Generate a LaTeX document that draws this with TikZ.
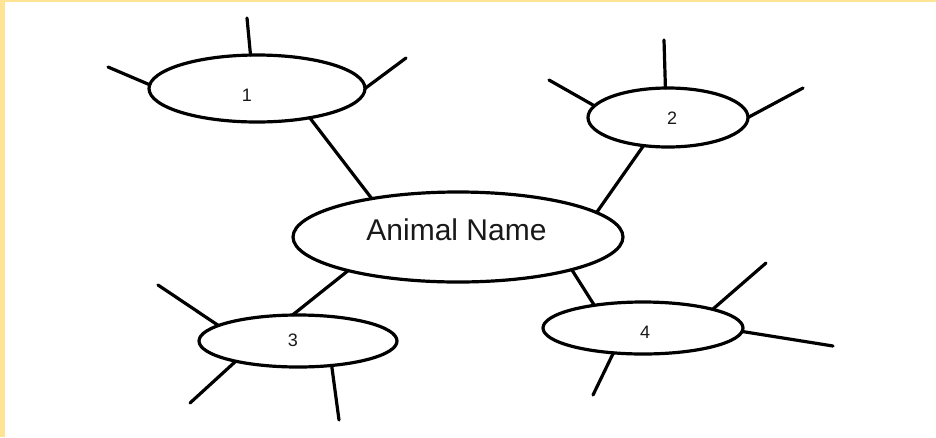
\documentclass[tikz,border=0pt]{standalone}
\usepackage{fontspec}
\setmainfont{Liberation Sans}
\usetikzlibrary{shapes.geometric}
\definecolor{pagetint}{RGB}{255,228,150}
\begin{document}
\begin{tikzpicture}[x=1pt,y=-1pt,
  bubble/.style={ellipse,draw=black,line width=3.2pt,fill=white,inner sep=0pt,outer sep=0pt},
  spoke/.style={line width=3.2pt,line cap=round},
  numtext/.style={font=\fontsize{18}{21}\selectfont,text=black!90},
  maintext/.style={font=\fontsize{30}{35}\selectfont,text=black!90}]
  % page and tinted edges
  \fill[white] (0,0) rectangle (936,437);
  \useasboundingbox (0,0) rectangle (936,437);
  \fill[pagetint] (0,0) rectangle (5,437);
  \fill[pagetint] (0,0) rectangle (936,2);

  % bubbles
  \node[bubble,minimum width=330pt,minimum height=90pt,
        label={[maintext,xshift=-1.5pt,yshift=7.5pt]center:Animal Name}] (hub) at (458,237) {};
  \node[bubble,minimum width=216pt,minimum height=67pt,
        label={[numtext,xshift=-10pt,yshift=-6.5pt]center:1}] (b1) at (257,88.5) {};
  \node[bubble,minimum width=160pt,minimum height=59pt,
        label={[numtext,xshift=4pt,yshift=-0.5pt]center:2}] (b2) at (668,117.5) {};
  \node[bubble,minimum width=198pt,minimum height=52pt,
        label={[numtext,xshift=-5pt,yshift=1pt]center:3}] (b3) at (298,341) {};
  \node[bubble,minimum width=200pt,minimum height=52pt,
        label={[numtext,xshift=2pt,yshift=-4pt]center:4}] (b4) at (643,328) {};

  % free ends of the spokes
  \coordinate (t1a) at (247,18);
  \coordinate (t1b) at (108,67);
  \coordinate (t1c) at (406,58);
  \coordinate (t2a) at (664,40);
  \coordinate (t2b) at (549,80);
  \coordinate (t2c) at (803,88);
  \coordinate (t3a) at (158,285);
  \coordinate (t3b) at (190,403);
  \coordinate (t3c) at (339,420);
  \coordinate (t4a) at (766,263);
  \coordinate (t4b) at (833,346);
  \coordinate (t4c) at (593,395);

  % links from the hub to each bubble
  \draw[spoke] (hub.156.1) -- (b1.-29);
  \draw[spoke] (hub.10.2) -- (b2.-131.4);
  \draw[spoke] (hub.-163.2) -- (b3.102.5);
  \draw[spoke] (hub.-16.1) -- (b4.155.9);

  % spokes of bubble 1
  \draw[spoke] (b1.101.8) -- (t1a);
  \draw[spoke] (b1.178.7) -- (t1b);
  \draw[spoke] (b1.0.3) -- (t1c);
  % spokes of bubble 2
  \draw[spoke] (b2.95.8) -- (t2a);
  \draw[spoke] (b2.171.3) -- (t2b);
  \draw[spoke] (b2.0.4) -- (t2c);
  % spokes of bubble 3
  \draw[spoke] (b3.169.8) -- (t3a);
  \draw[spoke] (b3.-162.1) -- (t3b);
  \draw[spoke] (b3.-36.3) -- (t3c);
  % spokes of bubble 4
  \draw[spoke] (b4.15.2) -- (t4a);
  \draw[spoke] (b4.-2.3) -- (t4b);
  \draw[spoke] (b4.-140.7) -- (t4c);
\end{tikzpicture}
\end{document}
